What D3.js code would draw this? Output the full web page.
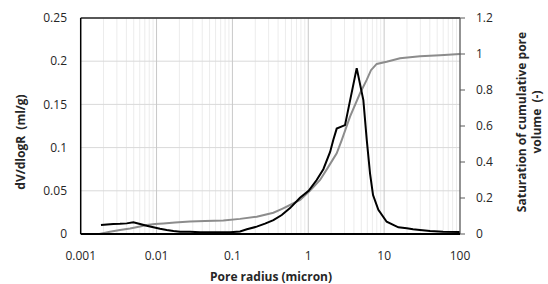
<!DOCTYPE html>
<html>

<head>
  <meta charset="utf-8">
  <style>
    body {
      margin: 0;
      background: #ffffff;
    }

    .tick-text {
      font-family: "Open Sans", sans-serif;
      font-size: 12px;
      fill: #262626;
    }

    .axis-title {
      font-family: "Open Sans", sans-serif;
      font-size: 12px;
      font-weight: bold;
      fill: #262626;
    }
  </style>
</head>

<body>
  <div id="chart"></div>
  <script src="https://cdn.jsdelivr.net/npm/d3@7"></script>
  <script>
    // pore radius (micron) vs dV/dlogR (ml/g)
    var radiusDv = [0.00185, 0.00222, 0.00269, 0.0033, 0.00404, 0.00494, 0.00605, 0.00741, 0.00908, 0.0111,
      0.0136, 0.0167, 0.0204, 0.0277, 0.0375, 0.0508, 0.0687, 0.0931, 0.126, 0.155,
      0.209, 0.269, 0.347, 0.447, 0.575, 0.778, 1.01, 1.29, 1.58, 1.94,
      2.14, 2.37, 3.05, 4.35, 5.32, 5.9, 6.52, 7.14, 8.39, 10.8,
      15.4, 19.9, 24.0, 29.7, 40.3, 59.7, 100];
    var dvValues = [0.0104, 0.011, 0.0116, 0.0118, 0.0123, 0.0135, 0.0116, 0.0095, 0.0077, 0.006,
      0.0046, 0.0035, 0.0027, 0.0025, 0.002, 0.002, 0.002, 0.002, 0.003, 0.0054,
      0.0085, 0.012, 0.016, 0.022, 0.03, 0.042, 0.05, 0.0625, 0.075, 0.095,
      0.109, 0.122, 0.126, 0.192, 0.155, 0.109, 0.07, 0.045, 0.028, 0.0142,
      0.0077, 0.0066, 0.0055, 0.0046, 0.0035, 0.0027, 0.0023];

    // pore radius (micron) vs saturation of cumulative pore volume
    var radiusSat = [0.00176, 0.00243, 0.0033, 0.00447, 0.00605, 0.00741, 0.00953, 0.0123, 0.0175, 0.0276,
      0.0435, 0.0759, 0.126, 0.209, 0.347, 0.452, 0.575, 0.78, 1.05, 1.43,
      1.82, 2.37, 2.76, 3.55, 4.81, 5.89, 6.71, 7.98, 10.8, 16.2,
      29.7, 54.5, 100];
    var satValues = [0, 0.012, 0.022, 0.03, 0.042, 0.05, 0.055, 0.059, 0.064, 0.069,
      0.072, 0.075, 0.084, 0.096, 0.118, 0.14, 0.161, 0.189, 0.24, 0.30,
      0.37, 0.448, 0.522, 0.652, 0.782, 0.856, 0.91, 0.945, 0.957, 0.976,
      0.987, 0.993, 1.0];

    var xTicks = [0.001, 0.01, 0.1, 1, 10, 100];
    var xTickLabels = ['0.001', '0.01', '0.1', '1', '10', '100'];
    var leftTicks = [0, 0.05, 0.1, 0.15, 0.2, 0.25];
    var leftTickLabels = ['0', '0.05', '0.1', '0.15', '0.2', '0.25'];
    var rightTicks = [0, 0.2, 0.4, 0.6, 0.8, 1, 1.2];
    var rightTickLabels = ['0', '0.2', '0.4', '0.6', '0.8', '1', '1.2'];

    var width = 548;
    var height = 284;
    var plot = { left: 80.7, right: 460, top: 18, bottom: 234 };

    var svg = d3.select('#chart').append('svg')
      .attr('width', width)
      .attr('height', height)
      .style('display', 'block');

    var x = d3.scaleLog().domain([0.001, 100]).range([plot.left, plot.right]);
    var yLeft = d3.scaleLinear().domain([0, 0.25]).range([plot.bottom, plot.top]);
    var yRight = d3.scaleLinear().domain([0, 1.2]).range([plot.bottom, plot.top]);

    // minor vertical grid (2..9 of each decade)
    var minorX = [];
    for (var e = -3; e < 2; e++) {
      for (var m = 2; m < 10; m++) minorX.push(m * Math.pow(10, e));
    }
    svg.append('g').selectAll('line')
      .data(minorX).enter()
      .append('line')
      .attr('x1', function (d) { return x(d); })
      .attr('x2', function (d) { return x(d); })
      .attr('y1', plot.top)
      .attr('y2', plot.bottom)
      .style('stroke', '#ececec')
      .style('stroke-width', 1);

    // horizontal grid
    svg.append('g').selectAll('line')
      .data(leftTicks.slice(1)).enter()
      .append('line')
      .attr('x1', plot.left)
      .attr('x2', plot.right)
      .attr('y1', function (d) { return yLeft(d); })
      .attr('y2', function (d) { return yLeft(d); })
      .style('stroke', '#d9d9d9')
      .style('stroke-width', 1);

    // major vertical grid
    svg.append('g').selectAll('line')
      .data(xTicks.slice(1, -1)).enter()
      .append('line')
      .attr('x1', function (d) { return x(d); })
      .attr('x2', function (d) { return x(d); })
      .attr('y1', plot.top)
      .attr('y2', plot.bottom)
      .style('stroke', '#c8c8c8')
      .style('stroke-width', 1);

    // series
    var dvData = radiusDv.map(function (r, i) { return [r, dvValues[i]]; });
    var satData = radiusSat.map(function (r, i) { return [r, satValues[i]]; });

    svg.append('path')
      .datum(satData)
      .attr('d', d3.line()
        .x(function (d) { return x(d[0]); })
        .y(function (d) { return yRight(d[1]); }))
      .style('fill', 'none')
      .style('stroke', '#8c8c8c')
      .style('stroke-width', 2);

    svg.append('path')
      .datum(dvData)
      .attr('d', d3.line()
        .x(function (d) { return x(d[0]); })
        .y(function (d) { return yLeft(d[1]); }))
      .style('fill', 'none')
      .style('stroke', '#000000')
      .style('stroke-width', 2);

    // frame
    svg.append('line')
      .attr('x1', plot.left).attr('x2', plot.right)
      .attr('y1', plot.top).attr('y2', plot.top)
      .style('stroke', '#262626').style('stroke-width', 1.3);
    svg.append('line')
      .attr('x1', plot.right).attr('x2', plot.right)
      .attr('y1', plot.top).attr('y2', plot.bottom)
      .style('stroke', '#595959').style('stroke-width', 1.3);
    svg.append('line')
      .attr('x1', plot.left).attr('x2', plot.left)
      .attr('y1', plot.top).attr('y2', plot.bottom)
      .style('stroke', '#000000').style('stroke-width', 1.5);
    svg.append('line')
      .attr('x1', plot.left).attr('x2', plot.right)
      .attr('y1', plot.bottom).attr('y2', plot.bottom)
      .style('stroke', '#000000').style('stroke-width', 1.8);

    // right axis ticks
    svg.append('g').selectAll('line')
      .data(rightTicks).enter()
      .append('line')
      .attr('x1', plot.right)
      .attr('x2', plot.right + 5)
      .attr('y1', function (d) { return yRight(d); })
      .attr('y2', function (d) { return yRight(d); })
      .style('stroke', '#595959')
      .style('stroke-width', 1);

    // tick labels
    svg.append('g').selectAll('text')
      .data(xTicks).enter()
      .append('text')
      .attr('class', 'tick-text')
      .attr('x', function (d) { return x(d); })
      .attr('y', 260)
      .attr('text-anchor', 'middle')
      .text(function (d, i) { return xTickLabels[i]; });

    svg.append('g').selectAll('text')
      .data(leftTicks).enter()
      .append('text')
      .attr('class', 'tick-text')
      .attr('x', 67)
      .attr('y', function (d) { return yLeft(d); })
      .attr('dy', '0.35em')
      .attr('text-anchor', 'end')
      .text(function (d, i) { return leftTickLabels[i]; });

    svg.append('g').selectAll('text')
      .data(rightTicks).enter()
      .append('text')
      .attr('class', 'tick-text')
      .attr('x', 476)
      .attr('y', function (d) { return yRight(d); })
      .attr('dy', '0.35em')
      .attr('text-anchor', 'start')
      .text(function (d, i) { return rightTickLabels[i]; });

    // axis titles
    svg.append('text')
      .attr('class', 'axis-title')
      .attr('x', 271)
      .attr('y', 281)
      .attr('text-anchor', 'middle')
      .text('Pore radius (micron)');

    svg.append('text')
      .attr('class', 'axis-title')
      .attr('transform', 'translate(25,142) rotate(-90)')
      .attr('text-anchor', 'middle')
      .style('white-space', 'pre')
      .text('dV/dlogR  (ml/g)');

    var rightTitle = svg.append('text')
      .attr('class', 'axis-title')
      .attr('transform', 'translate(522,122) rotate(-90)')
      .attr('text-anchor', 'middle')
      .style('white-space', 'pre');
    rightTitle.append('tspan')
      .attr('x', 0).attr('y', 4)
      .text('Saturation of cumulative pore');
    rightTitle.append('tspan')
      .attr('x', 0).attr('y', 19)
      .text('volume  (-)');
  </script>
</body>

</html>
